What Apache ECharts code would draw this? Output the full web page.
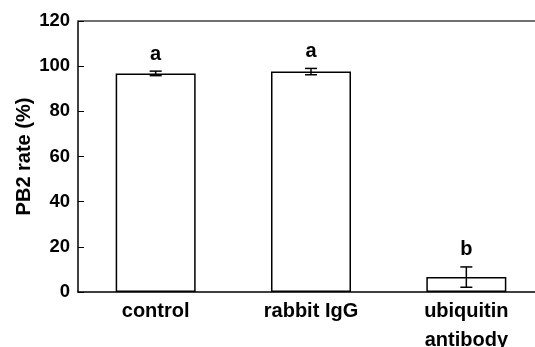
<!DOCTYPE html>
<html><head><meta charset="utf-8">
<script src="https://cdn.jsdelivr.net/npm/echarts@6/dist/echarts.min.js"></script>
<style>html,body{margin:0;padding:0;background:#fff}#c{width:535px;height:347px}</style>
</head><body><div id="c"></div>
<script>
const categories = ['control', 'rabbit IgG', 'ubiquitin\nantibody'];
const values = [96.8, 97.6, 6.6];
const errors = [1.0, 1.4, 4.5];
const letters = ['a', 'a', 'b'];
const yTicks = [0, 20, 40, 60, 80, 100, 120];

const chart = echarts.init(document.getElementById('c'));
const font = 'Liberation Sans, Arial, sans-serif';
chart.setOption({
  animation: false,
  grid: { left: 78, top: 21, bottom: 55, width: 466, containLabel: false, outerBoundsMode: 'none' },
  xAxis: [{
    type: 'category', data: categories,
    axisLine: { lineStyle: { color: '#000', width: 1.5 } },
    axisTick: { inside: true, length: 6, lineStyle: { color: '#000' } },
    axisLabel: { color: '#000', fontFamily: font, fontWeight: 'bold', fontSize: 20, margin: 5, lineHeight: 29 }
  }, {
    type: 'category', data: categories, position: 'top',
    axisLine: { lineStyle: { color: '#707070', width: 2 } },
    axisTick: { show: false }, axisLabel: { show: false }
  }],
  yAxis: {
    type: 'value', min: yTicks[0], max: yTicks[yTicks.length - 1], interval: 20,
    name: 'PB2 rate (%)', nameLocation: 'middle', nameGap: 44, nameRotate: 90, nameMoveOverlap: false,
    nameTextStyle: { color: '#000', fontFamily: font, fontWeight: 'bold', fontSize: 20 },
    axisLine: { show: true, lineStyle: { color: '#000', width: 1.5 } },
    axisTick: { show: true, inside: true, length: 6, lineStyle: { color: '#000' } },
    axisLabel: { color: '#000', fontFamily: font, fontWeight: 'bold', fontSize: 18.5, margin: 8 },
    splitLine: { show: false }
  },
  series: [{
    type: 'bar', data: values, barWidth: 80,
    itemStyle: { color: '#fff', borderColor: '#000', borderWidth: 1.5 }
  }, {
    type: 'custom',
    data: values.map((v, i) => [i, v, errors[i], letters[i]]),
    renderItem: function (params, api) {
      const x = api.value(0);
      const lo = api.coord([x, api.value(1) - api.value(2)]);
      const hi = api.coord([x, api.value(1) + api.value(2)]);
      const hw = 6;
      const st = { stroke: '#000', lineWidth: 1.5 };
      return { type: 'group', children: [
        { type: 'line', shape: { x1: lo[0], y1: lo[1], x2: hi[0], y2: hi[1] }, style: st },
        { type: 'line', shape: { x1: lo[0] - hw, y1: lo[1], x2: lo[0] + hw, y2: lo[1] }, style: st },
        { type: 'line', shape: { x1: hi[0] - hw, y1: hi[1], x2: hi[0] + hw, y2: hi[1] }, style: st },
        { type: 'text', style: { text: api.value(3), x: hi[0], y: hi[1] - 7, align: 'center', verticalAlign: 'bottom',
          fill: '#000', font: 'bold 20px ' + font } }
      ] };
    },
    z: 5
  }]
});
</script></body></html>
